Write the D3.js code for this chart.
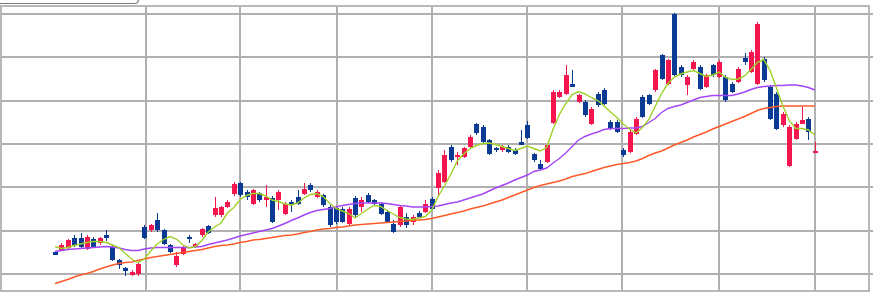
<!DOCTYPE html>
<html>
<head>
<meta charset="utf-8">
<script src="https://cdn.jsdelivr.net/npm/d3@7"></script>
<style>
  html, body { margin: 0; padding: 0; background: #fff; overflow: hidden; }
</style>
</head>
<body>
<div id="chart"></div>
<script>
// daily candles (120 sessions), prices
const opens  = [1097,1101,1105,1125,1124,1103,1122,1114,1130,1107,1080,1065,1050,1052,1147,1140,1160,1140,1110,1070,
                1093,1126,1107,1130,1148,1170,1170,1187,1212,1235,1217,1193,1214,1200,1205,1200,1173,1197,1207,1213,
                1230,1207,1210,1187,1184,1183,1153,1205,1187,1210,1200,1193,1177,1153,1150,1167,1157,1175,1177,1203,
                1224,1237,1307,1286,1287,1307,1352,1347,1320,1304,1300,1307,1301,1317,1350,1292,1273,1277,1355,1407,
                1413,1433,1397,1397,1353,1413,1420,1357,1357,1300,1297,1333,1407,1410,1420,1490,1433,1573,1467,1430,
                1463,1467,1427,1470,1447,1447,1433,1437,1484,1457,1433,1483,1427,1413,1350,1268,1323,1353,1363,1295];
const highs  = [1099,1115,1123,1130,1134,1130,1126,1127,1140,1110,1083,1067,1060,1075,1150,1153,1174,1143,1113,1096,
                1108,1130,1115,1145,1151,1207,1189,1200,1236,1237,1220,1223,1217,1230,1208,1220,1196,1200,1220,1234,
                1234,1220,1213,1190,1187,1187,1187,1208,1207,1214,1203,1196,1180,1160,1188,1174,1170,1178,1200,1207,
                1260,1300,1310,1297,1307,1330,1355,1350,1323,1307,1310,1310,1304,1340,1359,1295,1280,1313,1420,1420,
                1470,1460,1413,1400,1386,1416,1424,1360,1360,1304,1340,1366,1410,1413,1463,1493,1483,1574,1470,1450,
                1480,1470,1453,1473,1480,1450,1436,1466,1494,1500,1556,1487,1430,1416,1376,1350,1356,1387,1366,1317];
const lows   = [1090,1100,1102,1107,1102,1100,1104,1111,1119,1078,1062,1048,1048,1049,1122,1136,1137,1110,1094,1066,
                1090,1114,1104,1127,1132,1167,1166,1184,1208,1207,1200,1190,1197,1187,1154,1180,1170,1177,1190,1210,
                1217,1204,1187,1146,1152,1154,1150,1167,1177,1194,1190,1170,1154,1134,1147,1144,1150,1164,1174,1180,
                1210,1234,1277,1270,1284,1304,1331,1314,1290,1297,1297,1294,1290,1310,1323,1277,1260,1274,1352,1404,
                1410,1426,1394,1367,1350,1387,1390,1340,1334,1286,1294,1330,1364,1390,1417,1440,1430,1448,1446,1410,
                1460,1420,1424,1447,1444,1397,1414,1434,1470,1454,1430,1437,1360,1340,1347,1266,1320,1352,1320,1295];
const closes = [1091,1111,1120,1110,1106,1127,1107,1124,1125,1081,1070,1059,1057,1072,1125,1150,1140,1113,1097,1088,
                1105,1122,1112,1142,1135,1185,1186,1197,1233,1210,1207,1220,1200,1207,1157,1217,1193,1190,1193,1223,
                1220,1217,1190,1150,1156,1157,1183,1170,1200,1197,1193,1173,1157,1137,1187,1150,1167,1167,1193,1183,
                1254,1290,1280,1290,1304,1327,1334,1317,1293,1300,1307,1297,1293,1311,1325,1280,1263,1310,1417,1417,
                1450,1427,1410,1370,1383,1390,1393,1343,1337,1290,1337,1363,1367,1393,1460,1443,1480,1450,1450,1447,
                1477,1423,1450,1450,1477,1400,1417,1463,1476,1497,1553,1440,1363,1343,1373,1347,1353,1360,1337,1299];

// moving averages (short / mid / long)
const maShort = [1107,1103,1105,1109,1112,1115,1117,1117,1115,1110,1105,1093,1082,1075,1082,1098,1112,1121,1127,1122,
                 1111,1104,1107,1119,1136,1146,1154,1174,1185,1201,1209,1213,1213,1208,1200,1197,1192,1190,1194,1204,
                 1211,1213,1207,1194,1183,1178,1173,1164,1173,1182,1189,1187,1179,1172,1165,1162,1161,1164,1167,1180,
                 1207,1228,1252,1278,1292,1303,1309,1313,1314,1311,1307,1303,1299,1303,1308,1303,1298,1305,1341,1371,
                 1393,1411,1417,1412,1405,1399,1388,1376,1365,1352,1342,1334,1345,1361,1387,1413,1433,1446,1452,1456,
                 1459,1453,1447,1450,1456,1445,1441,1442,1448,1461,1475,1481,1459,1424,1388,1359,1343,1343,1340,1330];
const maMid   = [1097,1099,1101,1102,1103,1104,1105,1106,1107,1106,1104,1101,1099,1099,1102,1104,1105,1105,1105,1105,
                 1105,1105,1106,1107,1111,1114,1117,1120,1124,1128,1131,1134,1137,1140,1143,1148,1153,1159,1164,1170,
                 1175,1179,1181,1183,1186,1189,1191,1193,1194,1194,1194,1194,1193,1191,1189,1188,1186,1186,1186,1187,
                 1188,1191,1194,1196,1200,1204,1208,1212,1218,1224,1229,1234,1240,1245,1250,1257,1260,1264,1274,1283,
                 1294,1307,1320,1327,1332,1336,1341,1343,1343,1343,1344,1344,1347,1355,1363,1375,1383,1387,1390,1395,
                 1400,1405,1407,1409,1409,1409,1409,1412,1416,1421,1425,1427,1428,1429,1429,1430,1430,1428,1425,1420];
const maLong  = [1033,1037,1041,1046,1050,1053,1057,1062,1066,1070,1073,1075,1076,1079,1082,1085,1087,1089,1091,1093,
                 1095,1097,1099,1101,1104,1107,1109,1110,1112,1115,1117,1120,1121,1123,1125,1127,1129,1130,1132,1135,
                 1137,1140,1142,1143,1145,1146,1148,1150,1151,1152,1153,1154,1155,1156,1157,1158,1159,1160,1161,1163,
                 1166,1169,1172,1175,1178,1182,1185,1188,1192,1196,1200,1205,1210,1215,1220,1225,1229,1232,1235,1238,
                 1242,1247,1250,1253,1257,1261,1265,1268,1271,1273,1275,1278,1283,1289,1294,1298,1304,1310,1315,1320,
                 1326,1331,1336,1342,1347,1352,1357,1362,1367,1373,1379,1383,1385,1387,1388,1388,1388,1388,1388,1388];

// grid positions: session index for vertical lines, price for horizontal lines
const gridSessions = [14.2, 29, 44.1, 59, 73.9, 88.8, 104, 119];
const gridPrices = [1052, 1139, 1226, 1312, 1398, 1485, 1572];

const width = 874, height = 294;
const plot = { left: 1, top: 5, right: 869, bottom: 291 };

const svg = d3.select("#chart").append("svg")
    .attr("width", width)
    .attr("height", height)
    .style("display", "block")
    .style("background", "#fff");

const x = d3.scaleLinear().domain([0, 119]).range([55, 814.8]);
const y = d3.scaleLinear().domain([1018, 1590]).range([plot.bottom, plot.top]);

// grid
const grid = svg.append("g").attr("shape-rendering", "crispEdges");

grid.selectAll(".hgrid")
    .data(gridPrices)
    .enter()
    .append("line")
    .attr("x1", 0)
    .attr("x2", 873)
    .attr("y1", d => Math.round(y(d)))
    .attr("y2", d => Math.round(y(d)))
    .attr("stroke", "#b0b0b0")
    .attr("stroke-width", 2);

grid.selectAll(".vgrid")
    .data(gridSessions)
    .enter()
    .append("line")
    .attr("x1", d => Math.round(x(d)))
    .attr("x2", d => Math.round(x(d)))
    .attr("y1", plot.top)
    .attr("y2", plot.bottom)
    .attr("stroke", "#b0b0b0")
    .attr("stroke-width", 2);

grid.append("rect")
    .attr("x", plot.left)
    .attr("y", plot.top + 0.5)
    .attr("width", plot.right - plot.left)
    .attr("height", plot.bottom - plot.top - 0.5)
    .attr("fill", "none")
    .attr("stroke", "#b8b8b8")
    .attr("stroke-width", 2);

// little tab edge at the top left
svg.append("path")
    .attr("d", "M0,3.5 H134.5 Q138.5,3.5 138.5,-0.5")
    .attr("fill", "none")
    .attr("stroke", "#7a7a7a")
    .attr("stroke-width", 1.2);

// candles
const upColor = "#f5154f";
const downColor = "#0b3a94";
const candles = opens.map((o, i) => ({ i: i, o: o, h: highs[i], l: lows[i], c: closes[i] }));

const cg = svg.append("g").attr("shape-rendering", "crispEdges");

cg.selectAll(".wick")
    .data(candles)
    .enter()
    .append("line")
    .attr("x1", d => Math.round(x(d.i)) + 0.5)
    .attr("x2", d => Math.round(x(d.i)) + 0.5)
    .attr("y1", d => y(d.h))
    .attr("y2", d => y(d.l))
    .attr("stroke", d => d.c >= d.o ? upColor : downColor)
    .attr("stroke-width", 1);

cg.selectAll(".body")
    .data(candles)
    .enter()
    .append("rect")
    .attr("x", d => Math.round(x(d.i)) - 2)
    .attr("width", 5)
    .attr("y", d => y(Math.max(d.o, d.c)))
    .attr("height", d => Math.max(1.5, Math.abs(y(d.o) - y(d.c))))
    .attr("fill", d => d.c >= d.o ? upColor : downColor);

// moving average lines
const line = d3.line()
    .x((d, i) => x(i))
    .y(d => y(d));

[[maLong, "#ff5a28"], [maMid, "#a446f5"], [maShort, "#9fd12a"]].forEach(([series, color]) => {
    svg.append("path")
        .datum(series)
        .attr("fill", "none")
        .attr("stroke", color)
        .attr("stroke-width", 1.4)
        .attr("d", line);
});
</script>
</body>
</html>
